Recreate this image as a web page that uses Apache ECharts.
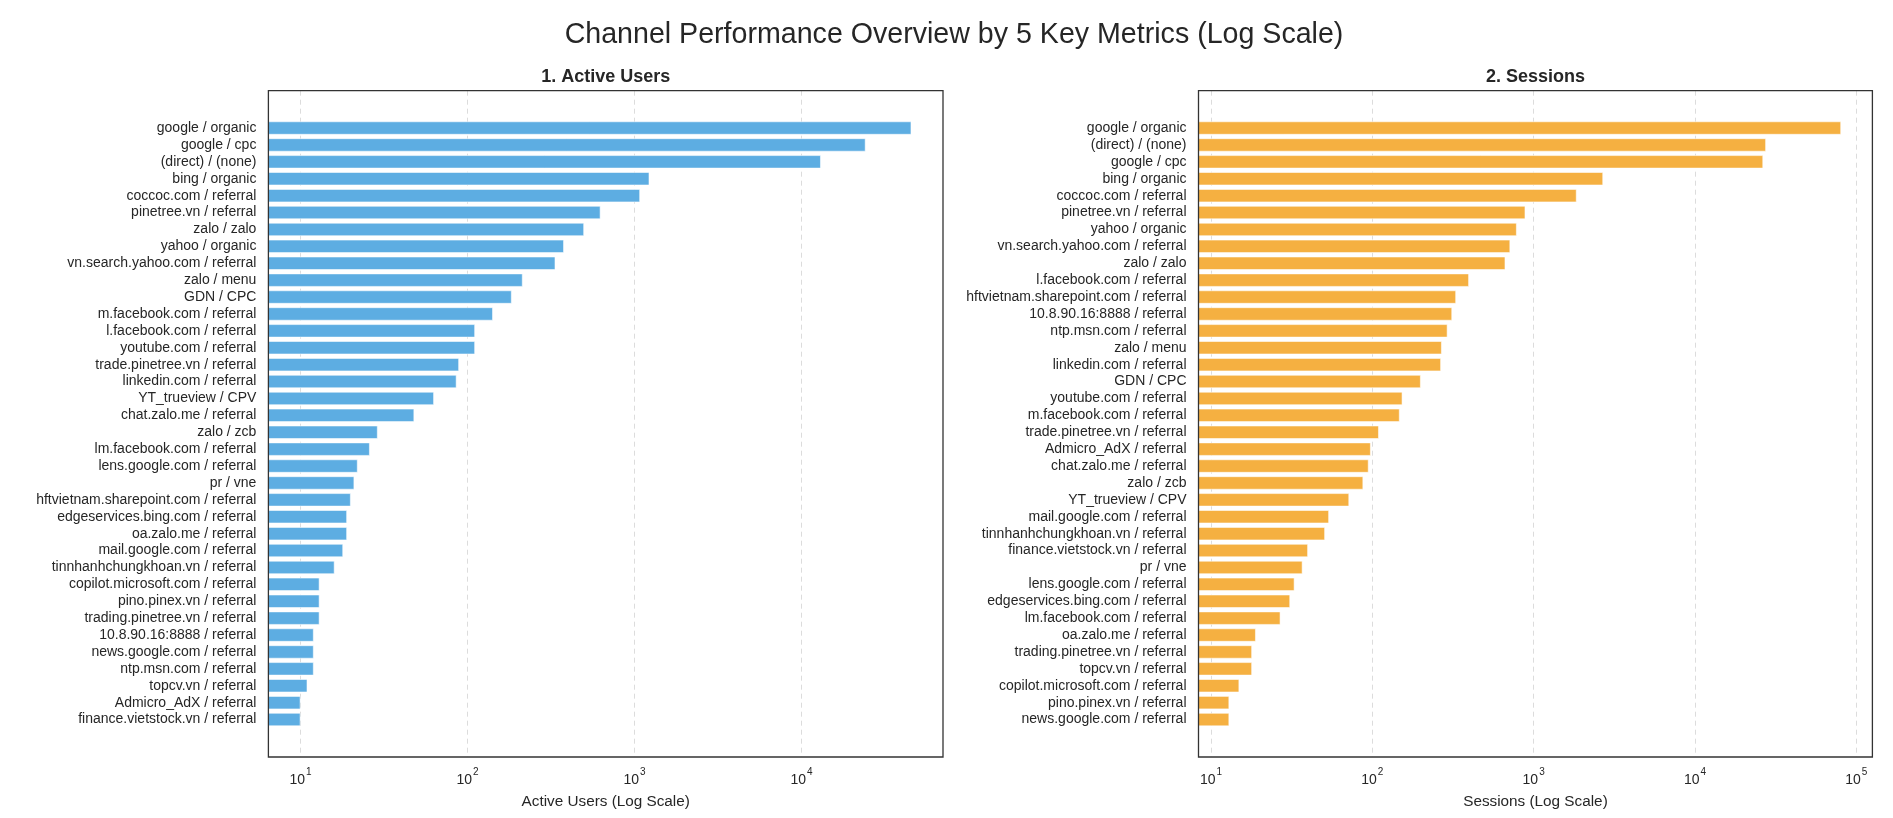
<!DOCTYPE html>
<html>
<head>
<meta charset="utf-8">
<script src="https://cdn.jsdelivr.net/npm/echarts@6/dist/echarts.min.js"></script>
<style>
html,body{margin:0;padding:0;background:#fff;}
#chart{width:1893px;height:818px;}
</style>
</head>
<body>
<div id="chart"></div>
<script>
// ---- Data ----
const usersCategories = [
  'google / organic','google / cpc','(direct) / (none)','bing / organic','coccoc.com / referral',
  'pinetree.vn / referral','zalo / zalo','yahoo / organic','vn.search.yahoo.com / referral','zalo / menu',
  'GDN / CPC','m.facebook.com / referral','l.facebook.com / referral','youtube.com / referral',
  'trade.pinetree.vn / referral','linkedin.com / referral','YT_trueview / CPV','chat.zalo.me / referral',
  'zalo / zcb','lm.facebook.com / referral','lens.google.com / referral','pr / vne',
  'hftvietnam.sharepoint.com / referral','edgeservices.bing.com / referral','oa.zalo.me / referral',
  'mail.google.com / referral','tinnhanhchungkhoan.vn / referral','copilot.microsoft.com / referral',
  'pino.pinex.vn / referral','trading.pinetree.vn / referral','10.8.90.16:8888 / referral',
  'news.google.com / referral','ntp.msn.com / referral','topcv.vn / referral','Admicro_AdX / referral',
  'finance.vietstock.vn / referral'
];
const usersValues = [
  45500, 24200, 13060, 1228, 1080,
  626, 499, 378, 336, 214,
  184, 142, 111, 111,
  89, 86, 63, 48,
  29, 26, 22, 21,
  20, 19, 19,
  18, 16, 13,
  13, 13, 12,
  12, 12, 11, 10,
  10
];
const sessionsCategories = [
  'google / organic','(direct) / (none)','google / cpc','bing / organic','coccoc.com / referral',
  'pinetree.vn / referral','yahoo / organic','vn.search.yahoo.com / referral','zalo / zalo',
  'l.facebook.com / referral','hftvietnam.sharepoint.com / referral','10.8.90.16:8888 / referral',
  'ntp.msn.com / referral','zalo / menu','linkedin.com / referral','GDN / CPC','youtube.com / referral',
  'm.facebook.com / referral','trade.pinetree.vn / referral','Admicro_AdX / referral','chat.zalo.me / referral',
  'zalo / zcb','YT_trueview / CPV','mail.google.com / referral','tinnhanhchungkhoan.vn / referral',
  'finance.vietstock.vn / referral','pr / vne','lens.google.com / referral','edgeservices.bing.com / referral',
  'lm.facebook.com / referral','oa.zalo.me / referral','trading.pinetree.vn / referral','topcv.vn / referral',
  'copilot.microsoft.com / referral','pino.pinex.vn / referral','news.google.com / referral'
];
const sessionsValues = [
  80600, 27600, 26500, 2700, 1850,
  890, 787, 717, 669,
  398, 331, 313,
  293, 270, 267, 200, 154,
  148, 110, 98, 95,
  88, 72, 54, 51,
  40, 37, 33, 31,
  27, 19, 18, 18,
  15, 13, 13
];
const mainTitle = 'Channel Performance Overview by 5 Key Metrics (Log Scale)';
const panelTitles = ['1. Active Users', '2. Sessions'];
const axisNames = ['Active Users (Log Scale)', 'Sessions (Log Scale)'];
const usersRange = [6.415, 70270];
const sessionsRange = [8.37, 125800];

// ---- Layout / style ----
const FONT = '"Liberation Sans", Arial, Helvetica, sans-serif';
const TXT = '#262626';
const frameTop = 90.7, frameH = 666.3;
const plotTop = 119.6, plotH = 608.4;
const panels = [
  {left: 268.4, width: 674.6, cats: usersCategories, vals: usersValues, range: usersRange, color: '#5DADE2'},
  {left: 1198.5, width: 673.9, cats: sessionsCategories, vals: sessionsValues, range: sessionsRange, color: '#F5B041'}
];

const grid = [], xAxis = [], yAxis = [], series = [];
const titles = [{
  text: mainTitle, left: 954, top: 20.5, textAlign: 'center', padding: 0,
  textStyle: {fontSize: 28.6, fontWeight: 'normal', color: TXT, fontFamily: FONT}
}];

panels.forEach((p, i) => {
  const gF = grid.length;
  grid.push({left: p.left, top: frameTop, width: p.width, height: frameH, show: true,
    borderColor: '#333', borderWidth: 1.3, backgroundColor: 'transparent', z: 10, containLabel: false});
  const gP = grid.length;
  grid.push({left: p.left, top: plotTop, width: p.width, height: plotH, containLabel: false});

  xAxis.push({
    type: 'log', logBase: 10, gridIndex: gF, min: p.range[0], max: p.range[1], splitNumber: 5,
    axisLine: {show: false}, axisTick: {show: false},
    splitLine: {show: true, showMinLine: false, showMaxLine: false, lineStyle: {color: '#dcdcdc', type: [5, 4], width: 1}},
    axisLabel: {
      showMinLabel: false, showMaxLabel: false, margin: 10,
      formatter: v => '{b|10}{s|' + Math.round(Math.log10(v)) + '}',
      rich: {
        b: {fontSize: 14, lineHeight: 20, color: TXT, fontFamily: FONT, verticalAlign: 'bottom'},
        s: {fontSize: 10, lineHeight: 10, color: TXT, fontFamily: FONT, verticalAlign: 'top', padding: [0, 0, 0, 1]}
      }
    },
    name: axisNames[i], nameLocation: 'middle', nameGap: 37, nameMoveOverlap: false,
    nameTextStyle: {fontSize: 15.3, color: TXT, fontFamily: FONT}
  });
  yAxis.push({type: 'value', gridIndex: gF, show: false, min: 0, max: 1});

  xAxis.push({type: 'log', logBase: 10, gridIndex: gP, min: p.range[0], max: p.range[1], show: false,
    splitLine: {show: false}});
  yAxis.push({
    type: 'category', gridIndex: gP, data: p.cats, inverse: true,
    axisLine: {show: false}, axisTick: {show: false}, splitLine: {show: false},
    axisLabel: {fontSize: 14, color: TXT, fontFamily: FONT, margin: 12, interval: 0}
  });

  series.push({
    type: 'bar', xAxisIndex: xAxis.length - 1, yAxisIndex: yAxis.length - 1,
    data: p.vals, barWidth: '80%', clip: true, z: 2,
    itemStyle: {color: p.color, borderColor: 'rgba(255,255,255,0.55)', borderWidth: 1}
  });

  titles.push({
    text: panelTitles[i], left: p.left + p.width / 2, top: 68, textAlign: 'center', padding: 0,
    textStyle: {fontSize: 18, fontWeight: 'bold', color: TXT, fontFamily: FONT}
  });
});

const chart = echarts.init(document.getElementById('chart'), null, {renderer: 'canvas'});
chart.setOption({
  animation: false,
  backgroundColor: '#ffffff',
  textStyle: {fontFamily: FONT},
  title: titles,
  grid: grid,
  xAxis: xAxis,
  yAxis: yAxis,
  series: series
});
</script>
</body>
</html>
